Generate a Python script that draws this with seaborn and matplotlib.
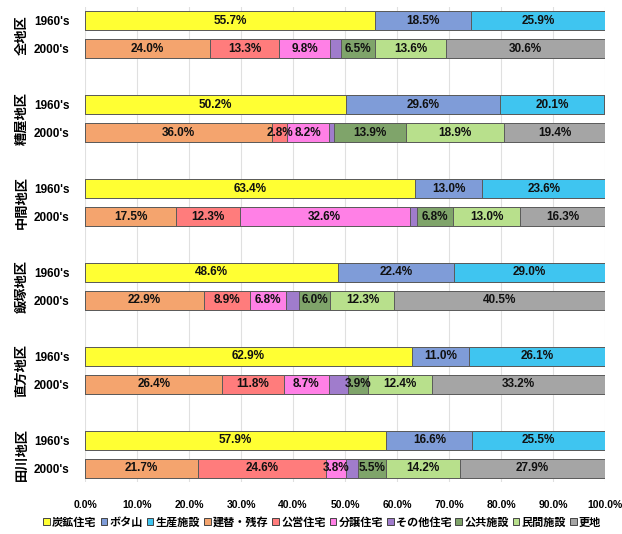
import numpy as np
import pandas as pd
import matplotlib
matplotlib.use("Agg")
import matplotlib.pyplot as plt
import seaborn as sns
from matplotlib.patches import Patch

# data
regions = ["全地区", "糟屋地区", "中間地区", "飯塚地区", "直方地区", "田川地区"]
periods = ["1960's", "2000's"]
categories = ["炭鉱住宅", "ボタ山", "生産施設", "建替・残存", "公営住宅",
              "分譲住宅", "その他住宅", "公共施設", "民間施設", "更地"]
colors = ["#FFFF33", "#7F9CD8", "#3FC5F0", "#F4A46E", "#FF7C7C",
          "#FF80E6", "#A07CCC", "#7FA46A", "#B8E08C", "#A5A5A5"]

# 1960's: 炭鉱住宅, ボタ山, 生産施設
v1960 = {
    "全地区": [55.7, 18.5, 25.9],
    "糟屋地区": [50.2, 29.6, 20.1],
    "中間地区": [63.4, 13.0, 23.6],
    "飯塚地区": [48.6, 22.4, 29.0],
    "直方地区": [62.9, 11.0, 26.1],
    "田川地区": [57.9, 16.6, 25.5],
}
# 2000's: 建替・残存, 公営住宅, 分譲住宅, その他住宅, 公共施設, 民間施設, 更地
v2000 = {
    "全地区": [24.0, 13.3, 9.8, 2.2, 6.5, 13.6, 30.6],
    "糟屋地区": [36.0, 2.8, 8.2, 0.8, 13.9, 18.9, 19.4],
    "中間地区": [17.5, 12.3, 32.6, 1.5, 6.8, 13.0, 16.3],
    "飯塚地区": [22.9, 8.9, 6.8, 2.6, 6.0, 12.3, 40.5],
    "直方地区": [26.4, 11.8, 8.7, 3.6, 3.9, 12.4, 33.2],
    "田川地区": [21.7, 24.6, 3.8, 2.3, 5.5, 14.2, 27.9],
}

rows = []
for g, r in enumerate(regions):
    vals = v1960[r] + [0] * 7
    rows.append([g * 3, r, periods[0]] + vals)
    vals = [0] * 3 + v2000[r]
    rows.append([g * 3 + 1, r, periods[1]] + vals)
df = pd.DataFrame(rows, columns=["pos", "region", "period"] + categories)
cum = df[categories].cumsum(axis=1)
for c in categories:
    df["cum_" + c] = cum[c]

num_font = ["Liberation Sans Narrow", "Liberation Sans", "Noto Sans CJK JP"]
plt.rcParams["font.family"] = num_font
plt.rcParams["font.weight"] = "bold"

fig = plt.figure(figsize=(6.22, 5.34), dpi=100)
ax = fig.add_axes([0.1367, 0.0974, 0.836, 0.8895])

# draw stacked bars back to front
for c, col in reversed(list(zip(categories, colors))):
    sns.barplot(data=df, x="cum_" + c, y="pos", orient="y", native_scale=True,
                color=col, edgecolor="#5a5a5a", linewidth=0.7, width=0.68,
                errorbar=None, saturation=1, ax=ax)

# segment labels
for _, row in df.iterrows():
    left = 0
    for c in categories:
        v = row[c]
        if v > 0 and c != "その他住宅":
            ax.text(left + v / 2, row["pos"], f"{v:.1f}%", ha="center",
                    va="center", fontsize=8.5, fontweight="bold", color="#111111")
        left += v

ax.set_xlim(0, 100)
ax.set_ylim(16.5, -0.5)
ax.set_xticks(np.arange(0, 101, 10))
ax.set_xticklabels([f"{t:.1f}%" for t in np.arange(0, 101, 10)],
                   fontsize=7.5, fontweight="bold")
ax.set_yticks(df["pos"])
ax.set_yticklabels(df["period"], fontsize=8.5, fontweight="bold")
ax.tick_params(axis="both", length=0)
ax.tick_params(axis="x", pad=13)
ax.tick_params(axis="y", pad=11)
ax.set_xlabel("")
ax.set_ylabel("")
ax.grid(axis="x", color="#e0e0e0", linewidth=0.8)
ax.set_axisbelow(True)
for s in ax.spines.values():
    s.set_visible(False)

# region labels
for g, r in enumerate(regions):
    ax.text(-0.122, g * 3 + 0.5, r, transform=ax.get_yaxis_transform(),
            rotation=90, ha="center", va="center", fontsize=9.5,
            fontweight="bold", family=["Noto Sans CJK JP"])

handles = [Patch(facecolor=col, edgecolor="#444444", linewidth=0.7, label=c)
           for c, col in zip(categories, colors)]
fig.legend(handles=handles, loc="center", bbox_to_anchor=(0.518, 0.022),
           ncol=10, frameon=False, handlelength=0.6, handleheight=0.6,
           handletextpad=0.2, columnspacing=0.35,
           prop={"family": "Noto Sans CJK JP", "size": 8, "weight": "bold"})

fig.savefig("out.png", dpi=100)
